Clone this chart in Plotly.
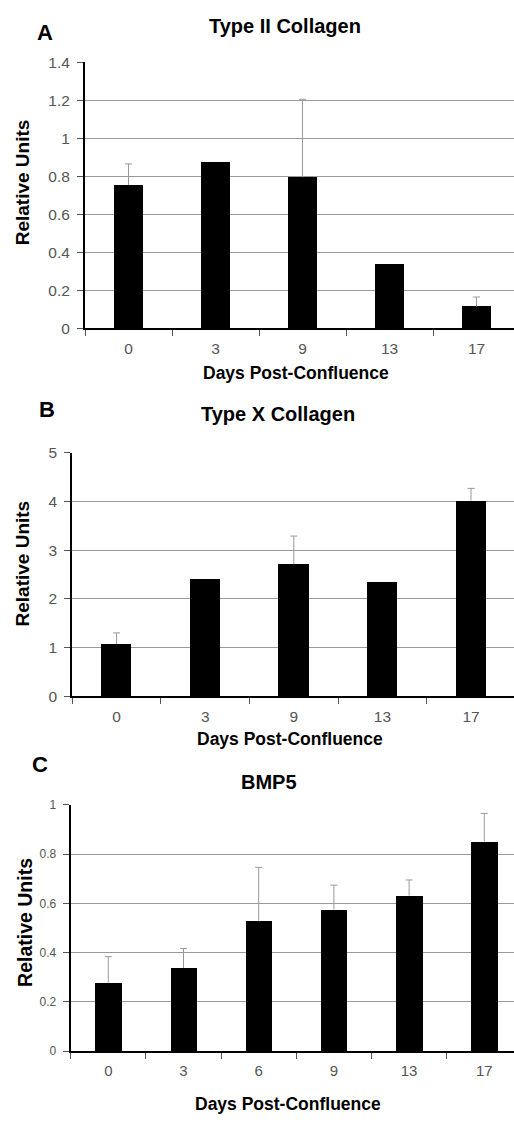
import plotly.graph_objects as go

W, H = 514, 1123

# ---- data ----
days_a = ["0", "3", "9", "13", "17"]
vals_a = [0.755, 0.875, 0.795, 0.34, 0.115]
err_a = [0.11, None, 0.41, None, 0.05]
yticks_a = [0, 0.2, 0.4, 0.6, 0.8, 1.0, 1.2, 1.4]
ytext_a = ["0", "0.2", "0.4", "0.6", "0.8", "1", "1.2", "1.4"]

days_b = ["0", "3", "9", "13", "17"]
vals_b = [1.07, 2.42, 2.71, 2.35, 4.02]
err_b = [0.23, None, 0.58, None, 0.25]
yticks_b = [0, 1, 2, 3, 4, 5]
ytext_b = ["0", "1", "2", "3", "4", "5"]

days_c = ["0", "3", "6", "9", "13", "17"]
vals_c = [0.278, 0.338, 0.529, 0.575, 0.631, 0.851]
err_c = [0.106, 0.079, 0.217, 0.099, 0.064, 0.114]
yticks_c = [0, 0.2, 0.4, 0.6, 0.8, 1.0]
ytext_c = ["0", "0.2", "0.4", "0.6", "0.8", "1"]

titles = ["Type II Collagen", "Type X Collagen", "BMP5"]
letters = ["A", "B", "C"]
xtitle = "Days Post-Confluence"
ytitle = "Relative Units"

FONT = "Liberation Sans, Arial, sans-serif"
TICKC = "#555555"
GRID = "#9a9a9a"
ERRC = "#999999"


def px_x(x):
    return x / W


def px_y(y):
    return 1 - y / H


# panel geometry in pixels
panels = [
    dict(left=85, top=54, bottom=324.3, cw=87.0, days=days_a, vals=vals_a, err=err_a,
         yr=[0, 1.4], tv=yticks_a, tt=ytext_a, bw=0.34, ytf=15.5, xtf=15.5),
    dict(left=72.3, top=450.7, bottom=697.7, cw=88.6, days=days_b, vals=vals_b, err=err_b,
         yr=[0, 5], tv=yticks_b, tt=ytext_b, bw=0.34, ytf=15.5, xtf=15.5),
    dict(left=70.7, top=808, bottom=1058.3, cw=75.2, days=days_c, vals=vals_c, err=err_c,
         yr=[0, 1], tv=yticks_c, tt=ytext_c, bw=0.35, ytf=12, xtf=15),
]

fig = go.Figure()
layout = dict(
    width=W, height=H, margin=dict(l=0, r=0, t=0, b=0),
    paper_bgcolor="white", plot_bgcolor="white", showlegend=False,
    font=dict(family=FONT, color="black"),
    bargap=0,
)

for i, p in enumerate(panels):
    sfx = "" if i == 0 else str(i + 1)
    xa, ya = "x" + sfx, "y" + sfx
    fig.add_trace(go.Bar(
        x=p["days"], y=p["vals"], xaxis=xa, yaxis=ya,
        width=p["bw"], marker=dict(color="black", line=dict(width=0)),
        hoverinfo="x+y",
    ))
    # upper-only error bars: stems + caps
    sx, sy, cx, cy = [], [], [], []
    for d, v, e in zip(p["days"], p["vals"], p["err"]):
        if e is None:
            continue
        sx += [d, d, None]
        sy += [v, v + e, None]
        cx.append(d)
        cy.append(v + e)
    fig.add_trace(go.Scatter(
        x=sx, y=sy, mode="lines", xaxis=xa, yaxis=ya,
        line=dict(color=ERRC, width=1), hoverinfo="skip",
    ))
    fig.add_trace(go.Scatter(
        x=cx, y=cy, mode="markers", xaxis=xa, yaxis=ya,
        marker=dict(symbol="line-ew-open", size=5, color=ERRC,
                    line=dict(color=ERRC, width=1)),
        hoverinfo="skip",
    ))
    xmax = -0.5 + (W - p["left"]) / p["cw"]
    layout["xaxis" + sfx] = dict(
        domain=[px_x(p["left"]), 1], anchor=ya, type="category",
        categoryorder="array", categoryarray=p["days"],
        range=[-0.5, xmax], tickson="boundaries", ticks="outside", ticklen=6,
        tickcolor=TICKC, tickwidth=1, showgrid=False, showline=True,
        linecolor="black", linewidth=2, zeroline=False,
        tickfont=dict(size=p["xtf"], color=TICKC, family=FONT),
        ticklabelstandoff=5, fixedrange=True,
    )
    layout["yaxis" + sfx] = dict(
        domain=[px_y(p["bottom"]), px_y(p["top"])], anchor=xa,
        range=p["yr"], tickvals=p["tv"], ticktext=p["tt"], ticks="outside",
        ticklen=6, tickcolor=TICKC, tickwidth=1, showgrid=True,
        gridcolor=GRID, gridwidth=1, showline=True, linecolor="black",
        linewidth=2, zeroline=False,
        tickfont=dict(size=p["ytf"], color=TICKC, family=FONT),
        ticklabelstandoff=4, fixedrange=True,
    )

ann = []
# titles
for (t, x, y) in [(titles[0], 285, 17), (titles[1], 278, 411.7), (titles[2], 269, 785)]:
    ann.append(dict(text="<b>%s</b>" % t, x=px_x(x), y=px_y(y), xref="paper", yref="paper",
                    showarrow=False, xanchor="center", yanchor="middle",
                    font=dict(size=20, family=FONT, color="black")))
# panel letters
for (t, x, y) in [(letters[0], 45, 24), (letters[1], 47, 406.7), (letters[2], 40, 767)]:
    ann.append(dict(text="<b>%s</b>" % t, x=px_x(x), y=px_y(y), xref="paper", yref="paper",
                    showarrow=False, xanchor="center", yanchor="middle",
                    font=dict(size=22, family=FONT, color="black")))
# x titles
for (x, y) in [(296, 370), (290, 741.7), (288, 1111.7)]:
    ann.append(dict(text="<b>%s</b>" % xtitle, x=px_x(x), y=px_y(y), xref="paper", yref="paper",
                    showarrow=False, xanchor="center", yanchor="middle",
                    font=dict(size=17.5, family=FONT, color="black")))
# y titles
for (x, y, s) in [(22, 176, 19), (22, 563, 19), (25, 928, 19.5)]:
    ann.append(dict(text="<b>%s</b>" % ytitle, x=px_x(x), y=px_y(y), xref="paper", yref="paper",
                    showarrow=False, xanchor="center", yanchor="middle", textangle=-90,
                    font=dict(size=s, family=FONT, color="black")))

layout["annotations"] = ann
fig.update_layout(**layout)
fig.write_html("out.html")
